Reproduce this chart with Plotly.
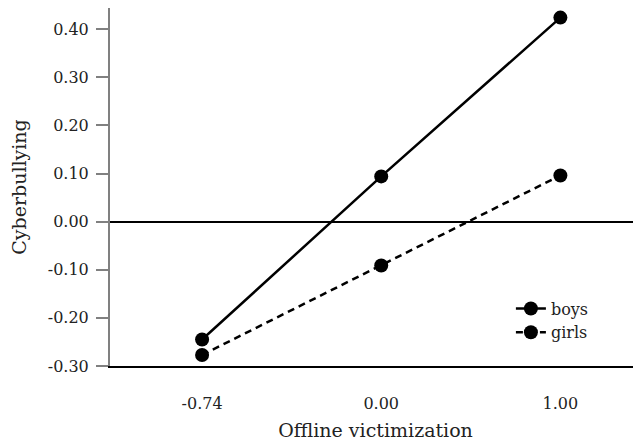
import plotly.graph_objects as go

categories = ["-0.74", "0.00", "1.00"]
boys = [-0.245, 0.094, 0.424]
girls = [-0.277, -0.091, 0.096]
y_ticks = [-0.30, -0.20, -0.10, 0.00, 0.10, 0.20, 0.30, 0.40]
y_ticklabels = [f"{v:.2f}" for v in y_ticks]

FONT = "DejaVu Serif"

fig = go.Figure()
fig.add_trace(go.Scatter(
    x=categories, y=boys, name="boys", mode="lines+markers",
    line=dict(color="black", width=2.5),
    marker=dict(color="black", size=14),
))
fig.add_trace(go.Scatter(
    x=categories, y=girls, name="girls", mode="lines+markers",
    line=dict(color="black", width=2.5, dash="7px,5px"),
    marker=dict(color="black", size=14),
))

# page body has an 8px margin; figure is sized so the plot lands where the reference has it
fig.update_layout(
    width=633, height=433,
    margin=dict(l=102, r=0, t=0, b=75),
    plot_bgcolor="white", paper_bgcolor="white",
    font=dict(family=FONT, size=16, color="#222222"),
    showlegend=True,
    legend=dict(x=0.755, y=0.208, xanchor="left", yanchor="top",
                bgcolor="rgba(0,0,0,0)", font=dict(size=16),
                tracegroupgap=0),
    xaxis=dict(
        type="category", categoryorder="array", categoryarray=categories,
        range=[-0.514, 2.45],
        showline=True, linecolor="black", linewidth=1.5,
        showgrid=False, zeroline=False, ticks="",
        ticklabelstandoff=22,
        title=dict(text="Offline victimization", standoff=12),
    ),
    yaxis=dict(
        range=[-0.30, 0.444],
        tickvals=y_ticks, ticktext=y_ticklabels,
        showline=True, linecolor="#808080", linewidth=2,
        ticks="outside", ticklen=12, tickcolor="#808080", tickwidth=2,
        showgrid=False,
        zeroline=True, zerolinecolor="black", zerolinewidth=1.5,
        ticklabelstandoff=4,
        title=dict(text="Cyberbullying", standoff=22),
    ),
)

fig.write_html("out.html")
